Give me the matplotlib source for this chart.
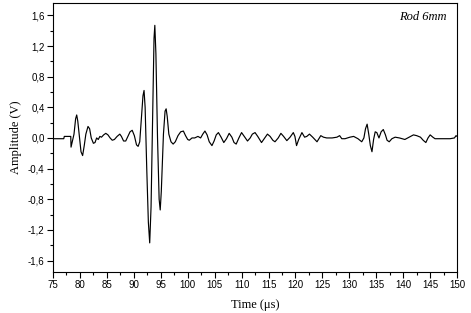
import matplotlib
matplotlib.use("Agg")
import matplotlib.pyplot as plt
from matplotlib.ticker import MultipleLocator, FuncFormatter

# Waveform (time in us, amplitude in V)
time_us = [
    75.0, 77.0, 77.1, 78.3, 78.35, 78.6, 78.9, 79.2, 79.4, 79.6, 79.9, 80.2,
    80.5, 80.8, 81.1, 81.5, 81.8, 82.1, 82.5, 82.8, 83.1, 83.4, 83.7, 84.0,
    84.4, 84.8, 85.2, 85.6, 86.0, 86.4, 86.9, 87.4, 87.7, 88.1, 88.5, 88.9,
    89.3, 89.7, 90.1, 90.5, 90.8, 91.1, 91.4, 91.7, 91.9, 92.1, 92.4, 92.7,
    92.95, 93.2, 93.5, 93.75, 93.9, 94.1, 94.4, 94.7, 94.9, 95.1, 95.5, 95.8,
    96.0, 96.2, 96.5, 96.9, 97.3, 97.7, 98.2, 98.7, 99.2, 99.6, 100.0, 100.3,
    100.8, 101.3, 101.9, 102.4, 102.8, 103.2, 103.6, 104.0, 104.5, 104.9, 105.3, 105.7,
    106.2, 106.7, 107.2, 107.7, 108.2, 108.6, 109.0, 109.5, 110.0, 110.5, 111.1, 111.6,
    112.0, 112.5, 113.0, 113.7, 114.2, 114.8, 115.3, 115.8, 116.2, 116.8, 117.3, 117.8,
    118.4, 119.0, 119.6, 119.9, 120.2, 120.6, 121.2, 121.7, 122.1, 122.6, 123.2, 124.0,
    124.7, 125.2, 125.8, 126.8, 127.7, 128.2, 128.6, 129.2, 130.1, 130.8, 131.6, 132.3,
    132.7, 133.0, 133.3, 133.6, 133.9, 134.2, 134.5, 134.8, 135.1, 135.5, 135.9, 136.3,
    136.7, 137.0, 137.4, 137.9, 138.5, 139.3, 140.3, 141.1, 141.9, 142.5, 143.2, 143.7,
    144.2, 144.6, 145.0, 145.5, 145.9, 147.0, 148.7, 149.5, 149.8, 150.0,
]
amplitude_v = [
    -0.01, -0.01, 0.02, 0.02, -0.12, -0.04, 0.05, 0.25, 0.30, 0.22, 0.02, -0.18,
    -0.23, -0.10, 0.05, 0.15, 0.12, 0.00, -0.07, -0.06, 0.00, -0.02, 0.02, 0.01,
    0.04, 0.06, 0.04, 0.00, -0.03, -0.02, 0.02, 0.05, 0.02, -0.04, -0.04, 0.02,
    0.08, 0.10, 0.03, -0.09, -0.11, -0.05, 0.25, 0.55, 0.62, 0.40, -0.40, -1.10,
    -1.37, -0.90, 0.30, 1.30, 1.47, 1.10, 0.00, -0.80, -0.94, -0.70, 0.05, 0.35,
    0.38, 0.28, 0.05, -0.05, -0.08, -0.05, 0.03, 0.08, 0.09, 0.03, -0.02, -0.03,
    0.00, 0.00, 0.02, 0.00, 0.05, 0.09, 0.04, -0.05, -0.10, -0.04, 0.04, 0.07,
    0.01, -0.06, -0.01, 0.06, 0.01, -0.06, -0.08, 0.00, 0.07, 0.02, -0.04, 0.00,
    0.05, 0.07, 0.02, -0.06, -0.01, 0.05, 0.02, -0.03, -0.05, 0.00, 0.06, 0.02,
    -0.035, 0.01, 0.07, 0.02, -0.10, -0.02, 0.07, 0.01, 0.02, 0.05, 0.01, -0.05,
    0.03, 0.01, 0.00, 0.00, 0.01, 0.03, -0.01, -0.01, 0.01, 0.02, -0.01, -0.05,
    0.00, 0.12, 0.18, 0.05, -0.10, -0.18, -0.02, 0.08, 0.07, 0.00, 0.08, 0.11,
    0.04, -0.03, -0.05, -0.01, 0.01, 0.00, -0.02, 0.01, 0.04, 0.03, 0.01, -0.03,
    -0.06, 0.00, 0.04, 0.01, -0.01, -0.01, -0.01, 0.00, 0.03, 0.02,
]

serif = "Liberation Serif"
sans = "Liberation Sans"

fig = plt.figure(figsize=(4.71, 3.13), dpi=100)
ax = fig.add_axes([0.1125, 0.131, 0.858, 0.859])

ax.plot(time_us, amplitude_v, color="black", lw=0.85)

ax.set_xlim(75, 150)
ax.set_ylim(-1.75, 1.76)
ax.xaxis.set_major_locator(MultipleLocator(5))
ax.xaxis.set_minor_locator(MultipleLocator(2.5))
ax.yaxis.set_major_locator(MultipleLocator(0.4))
ax.yaxis.set_minor_locator(MultipleLocator(0.2))
ax.yaxis.set_major_formatter(FuncFormatter(lambda v, p: f"{v:.1f}".replace(".", ",").replace("-0,0", "0,0")))

ax.tick_params(which="major", direction="out", length=4, width=0.8, labelsize=7, pad=2)
ax.tick_params(which="minor", direction="out", length=2, width=0.8)
for lab in ax.get_xticklabels() + ax.get_yticklabels():
    lab.set_fontfamily(sans)
for s in ax.spines.values():
    s.set_linewidth(0.8)

ax.set_xlabel("Time (\u03bcs)", fontfamily=serif, fontsize=9, labelpad=6)
ax.set_ylabel("Amplitude (V)", fontfamily=serif, fontsize=9, labelpad=4)
ax.text(0.975, 0.97, "Rod 6mm", transform=ax.transAxes, ha="right", va="top",
        fontfamily=serif, fontstyle="italic", fontsize=9)

fig.savefig("out.png", dpi=100)
